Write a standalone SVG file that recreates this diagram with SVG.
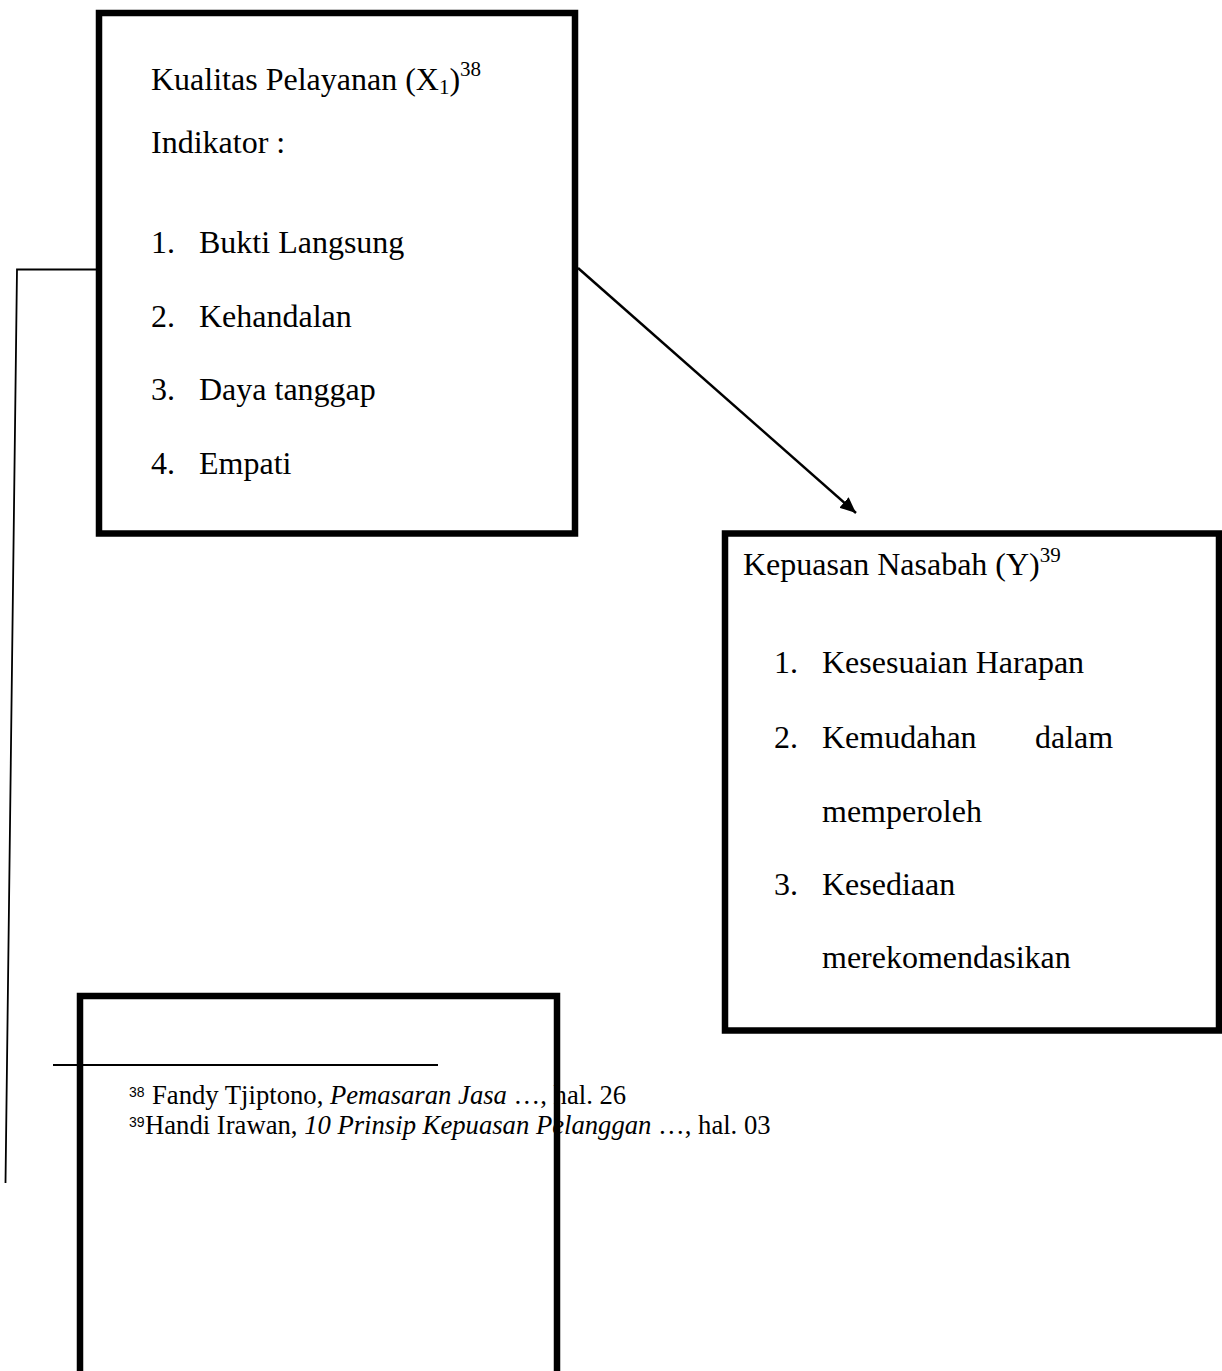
<svg xmlns="http://www.w3.org/2000/svg" width="1222" height="1371" viewBox="0 0 1222 1371">
<style>
.box{fill:none;stroke:#000;stroke-width:6.5}
.t{font-family:"Liberation Serif","Times New Roman",serif;font-size:32px;fill:#000}
.fn{font-family:"Liberation Serif","Times New Roman",serif;font-size:26.67px;fill:#000}
.fs{font-family:"Liberation Sans",Arial,sans-serif;font-size:14px;fill:#000}
.c{fill:none;stroke:#000}
</style>
<defs>
<marker id="arr" markerUnits="userSpaceOnUse" markerWidth="17" markerHeight="15" refX="16" refY="7.5" orient="auto">
<path d="M0,0.5 L16,7.5 L0,14.5 z" fill="#000"/>
</marker>
</defs>
<rect width="1222" height="1371" fill="#fff"/>
<g id="connectors">
<polyline class="c" stroke-width="1.8" points="96,269.5 17,269.5 5.5,1183"/>
<line class="c" stroke-width="2.5" x1="578" y1="268" x2="856" y2="513" marker-end="url(#arr)"/>
</g>
<g id="kualitas">
<rect class="box" x="99" y="13" width="476" height="520.5"/>
<text class="t" x="151" y="90">Kualitas Pelayanan (X<tspan font-size="21" dy="4">1</tspan><tspan dy="-4">)</tspan><tspan font-size="21" dy="-14">38</tspan></text>
<text class="t" x="151" y="153">Indikator :</text>
<text class="t" x="151" y="253">1.</text><text class="t" x="199" y="253">Bukti Langsung</text>
<text class="t" x="151" y="327">2.</text><text class="t" x="199" y="327">Kehandalan</text>
<text class="t" x="151" y="400">3.</text><text class="t" x="199" y="400">Daya tanggap</text>
<text class="t" x="151" y="474">4.</text><text class="t" x="199" y="474">Empati</text>
</g>
<g id="kepuasan">
<rect class="box" x="725" y="533.5" width="494" height="497"/>
<text class="t" x="743" y="575">Kepuasan Nasabah (Y)<tspan font-size="21" dy="-13">39</tspan></text>
<text class="t" x="774" y="673">1.</text><text class="t" x="822" y="673">Kesesuaian Harapan</text>
<text class="t" x="774" y="748">2.</text><text class="t" x="822" y="748">Kemudahan</text><text class="t" x="1035" y="748">dalam</text>
<text class="t" x="822" y="822">memperoleh</text>
<text class="t" x="774" y="895">3.</text><text class="t" x="822" y="895">Kesediaan</text>
<text class="t" x="822" y="968">merekomendasikan</text>
</g>
<g id="footnotes">
<line x1="53" y1="1065" x2="438" y2="1065" stroke="#000" stroke-width="2"/>
<text class="fs" x="129" y="1097">38</text>
<text class="fn" x="152" y="1104">Fandy Tjiptono, <tspan font-style="italic">Pemasaran Jasa</tspan> …, hal. 26</text>
<text class="fs" x="129" y="1127">39</text>
<text class="fn" x="145" y="1134">Handi Irawan, <tspan font-style="italic">10 Prinsip Kepuasan Pelanggan</tspan> …, hal. 03</text>
</g>
<g id="box3">
<rect class="box" x="80" y="996" width="477" height="420"/>
</g>
</svg>
